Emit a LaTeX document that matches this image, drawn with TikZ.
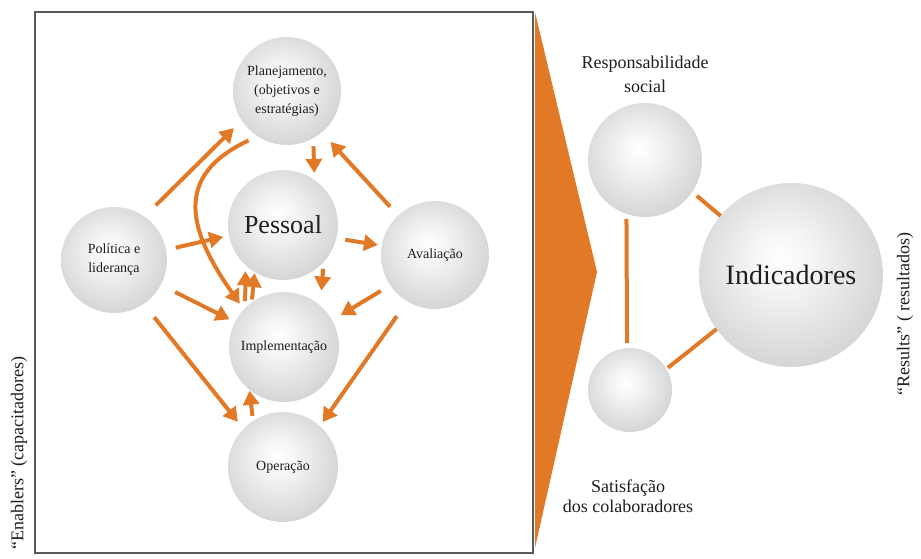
\documentclass[tikz,border=0pt]{standalone}
\usepackage{fontspec}
\setmainfont{Liberation Serif}
\usetikzlibrary{arrows.meta}

\definecolor{laranja}{RGB}{226,121,38}
\definecolor{texto}{RGB}{30,30,30}

\pgfdeclareradialshading{esfera}{\pgfpoint{-3bp}{5bp}}{%
	color(0bp)=(white); color(8bp)=(white!96!black);
	color(30bp)=(white!82!black); color(46bp)=(white!70!black);
	color(50bp)=(white!67!black)}

\tikzset{
	bola/.style={circle, shading=esfera, inner sep=0pt, outer sep=0pt,
		align=center, text=texto, font=\fontsize{14}{19}\selectfont},
	seta/.style={draw=laranja, line width=4pt,
		-{Triangle[length=14pt,width=16pt]}},
	liga/.style={draw=laranja, line width=4pt},
	rotulo/.style={text=texto, align=center, font=\fontsize{18}{22}\selectfont}
}

\begin{document}
\begin{tikzpicture}[x=1pt, y=1pt]

	\useasboundingbox (0,0) rectangle (921,558);

	% quadro e seta grande
	\draw[line width=1.3pt, draw=black!65] (35,5) rectangle (533,546);
	\fill[laranja] (535,546) -- (597,286) -- (535,10) -- cycle;

	% capacitadores
	\node[bola, minimum size=108pt] (plan) at (287,467)
		{Planejamento,\\(objetivos e\\estratégias)};
	\node[bola, minimum size=110pt, font=\fontsize{26}{30}\selectfont]
		(pes) at (283,333) {Pessoal};
	\node[bola, minimum size=106pt] (pol) at (114,298) {Política e\\liderança};
	\node[bola, minimum size=108pt] (ava) at (435,303) {Avaliação};
	\node[bola, minimum size=110pt] (imp) at (284,211) {Implementação};
	\node[bola, minimum size=110pt] (ope) at (283,91) {Operação};

	\draw[seta, shorten <=16pt, shorten >=11pt] (pol.55.6) -- (plan.213.7);
	\draw[seta, shorten <=10pt, shorten >=7pt] (plan.237)
		to[out=205, in=125, looseness=1.4] (imp.137.6);
	\draw[seta, shorten <=10pt, shorten >=6pt] (pol.11.8) -- (pes.191.3);
	\draw[seta, shorten <=16pt, shorten >=6pt] (pol.332.3) -- (imp.153.9);
	\draw[seta, shorten <=7pt, shorten >=6pt] (imp.135) -- (pes.227.7);
	\draw[seta, shorten <=3pt, shorten >=1pt] (imp.126) -- (pes.239);
	\draw[seta, shorten <=8pt, shorten >=7pt] (plan.299.9) -- (pes.55.5);
	\draw[seta, shorten <=12pt, shorten >=13pt] (ava.133.2) -- (plan.310.1);
	\draw[seta, shorten <=9pt, shorten >=4pt] (pes.346.4) -- (ava.170);
	\draw[seta, shorten <=7pt, shorten >=15pt] (pes.318.9) -- (imp.49);
	\draw[seta, shorten <=11pt, shorten >=10pt] (ava.214.9) -- (imp.29.7);
	\draw[seta, shorten <=17pt, shorten >=9pt] (pol.304.6) -- (ope.136.3);
	\draw[seta, shorten <=18pt, shorten >=5pt] (ava.239.2) -- (ope.48.4);
	\draw[seta, shorten <=5pt, shorten >=1pt] (ope.123.4) -- (imp.231.7);

	% resultados
	\node[bola, minimum size=114pt] (resp) at (645,398) {};
	\node[bola, minimum size=84pt] (sat) at (630,168) {};
	\node[bola, minimum size=184pt, font=\fontsize{28}{32}\selectfont]
		(ind) at (791,283) {Indicadores};

	\node[rotulo, font=\fontsize{18}{24}\selectfont] (resptxt) at (645,484)
		{Responsabilidade\\social};
	\node[rotulo, font=\fontsize{18}{20}\selectfont] (sattxt) at (628,62)
		{Satisfação\\dos colaboradores};

	\draw[liga, shorten <=6pt] (resp.326) -- (ind.140);
	\draw[liga, shorten <=5pt, shorten >=5pt] (resp.251.6) -- (sat.94);
	\draw[liga, shorten <=2pt] (sat.30) -- (ind.216);

	\node[rotulo, rotate=90] (enab) at (19,105) {``Enablers'' (capacitadores)};
	\node[rotulo, rotate=90] (resl) at (905,244) {``Results'' ( resultados)};

\end{tikzpicture}
\end{document}
